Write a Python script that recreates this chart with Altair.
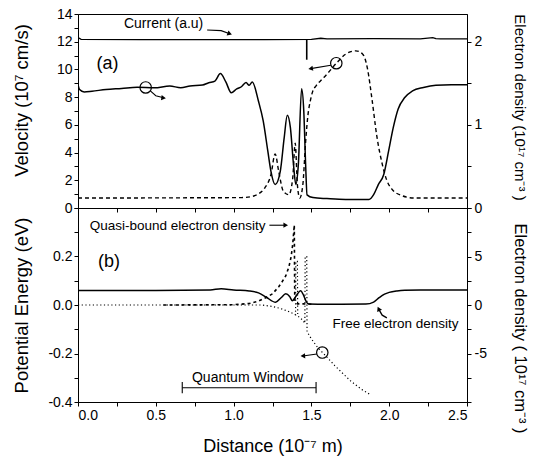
import altair as alt
import pandas as pd

# ---------------- Panel (a) data ----------------
vel_x = [0, 0.01, 0.04, 0.09, 0.18, 0.28, 0.38, 0.49, 0.59, 0.66, 0.72, 0.80, 0.84, 0.88,
         0.915, 0.95, 0.985, 1.02, 1.05, 1.08, 1.10, 1.12, 1.16, 1.19, 1.22, 1.24, 1.267,
         1.30, 1.325, 1.345, 1.365, 1.385, 1.40, 1.416, 1.437, 1.451, 1.463, 1.472, 1.51,
         1.6, 1.72, 1.87, 1.90, 1.93, 1.965, 1.996, 2.026, 2.057, 2.10, 2.15, 2.22, 2.30,
         2.4, 2.5]
vel_v = [8.9, 8.55, 8.38, 8.43, 8.55, 8.63, 8.72, 8.67, 8.8, 8.68, 8.8, 8.87, 9.04, 9.16,
         9.7, 9.1, 8.32, 8.6, 8.75, 9.05, 8.85, 9.1, 7.7, 6.3, 4.1, 2.65, 1.7,
         2.65, 5.06, 6.7, 5.8, 3.13, 1.7, 3.13, 8.6, 7.0, 3.1, 0.95, 0.75,
         0.68, 0.62, 0.62, 0.97, 1.69, 2.42, 4.1, 5.8, 7.13, 7.97, 8.45, 8.7, 8.86,
         8.9, 8.9]

cur_x = [0, 0.02, 0.4, 0.8, 1.2, 1.5, 1.56, 1.6, 1.9, 2.2, 2.28, 2.3, 2.33, 2.5]
cur_v = [12.3, 12.17, 12.15, 12.15, 12.15, 12.17, 12.25, 12.2, 12.22, 12.2, 12.3, 12.22, 12.2, 12.2]
glitch_x = [1.47]
glitch_top = [12.15]
glitch_bot = [10.7]

den_x = [0, 1.05, 1.12, 1.16, 1.20, 1.24, 1.267, 1.29, 1.32, 1.355, 1.38, 1.396, 1.41, 1.425,
         1.445, 1.463, 1.478, 1.492, 1.508, 1.53, 1.57, 1.6, 1.66, 1.72, 1.785, 1.83, 1.86,
         1.89, 1.92, 1.955, 1.985, 2.016, 2.08, 2.16, 2.5]
den_d = [0.12, 0.125, 0.14, 0.17, 0.24, 0.4, 0.65, 0.44, 0.2, 0.16, 0.36, 0.78, 0.28, 0.12,
         0.28, 0.8, 1.12, 1.28, 1.4, 1.47, 1.55, 1.61, 1.74, 1.85, 1.89, 1.85, 1.68,
         1.3, 0.87, 0.53, 0.33, 0.23, 0.15, 0.12, 0.12]

# ---------------- Panel (b) data ----------------
pot_x = [0, 1.18, 1.25, 1.30, 1.35, 1.398, 1.40, 1.41, 1.412, 1.44, 1.458, 1.46, 1.47, 1.472,
         1.50, 1.54, 1.60, 1.65, 1.75, 1.82, 1.88]
pot_e = [0, 0, -0.006, -0.014, -0.026, -0.04, 0.18, 0.18, -0.045, -0.06, -0.075, 0.2, 0.2, -0.11,
         -0.14, -0.175, -0.215, -0.25, -0.312, -0.347, -0.37]

qb_x = [0.55, 1.0, 1.1, 1.16, 1.2, 1.25, 1.29, 1.31, 1.335, 1.355, 1.37, 1.38, 1.39, 1.393,
        1.41, 1.45, 1.5]
qb_d = [0, 0.03, 0.15, 0.4, 0.7, 1.15, 1.88, 2.35, 3.0, 3.9, 5.0, 6.25, 8.25, 0.5,
        0.12, 0.12, 0.08]

free_x = [0, 0.5, 0.85, 0.92, 1.0, 1.1, 1.16, 1.21, 1.27, 1.305, 1.335, 1.36, 1.377, 1.405,
          1.43, 1.45, 1.465, 1.484, 1.6, 1.85, 1.9, 1.935, 1.97, 2.0, 2.05, 2.1, 2.2, 2.5]
free_d = [1.5, 1.5, 1.55, 1.68, 1.55, 1.45, 1.25, 0.8, 0.28, 0.75, 1.15, 0.88, 0.45, 1.0,
          1.48, 1.0, 0.4, 0.1, 0.08, 0.1, 0.3, 0.75, 1.12, 1.3, 1.45, 1.52, 1.55, 1.55]

qw_x = [0.67, 1.53]

xticks = [i * 0.25 for i in range(11)]

FONT = "Liberation Sans"
W, H1, H2 = 389, 194, 194
XDOM = [0, 2.5]
VDOM = [0, 14]
DADOM = [0, 14 / 6]
EDOM = [-0.4, 0.4]
DBDOM = [-10, 10]


def df(x, y):
    return pd.DataFrame({"x": x, "y": y})


def X(axis):
    return alt.X("x:Q", scale=alt.Scale(domain=XDOM, nice=False, zero=False), axis=axis)


def Y(dom, axis=None, field="y:Q"):
    return alt.Y(field, scale=alt.Scale(domain=dom, nice=False, zero=False), axis=axis)


ax_top_x = alt.Axis(values=xticks, labels=False, title=None, tickSize=4, grid=False,
                    domainColor="black", tickColor="black")
ax_bot_x = alt.Axis(values=xticks, title="Distance (10⁻⁷ m)", tickSize=4, grid=False,
                    labelExpr="(round(datum.value*4) % 2 == 0) ? format(datum.value, '.1f') : ''",
                    labelFont=FONT, labelFontSize=14, labelColor="black", labelPadding=2,
                    titleFont=FONT, titleFontSize=18, titleFontWeight="normal", titleColor="black",
                    titleY=44, titleBaseline="middle",
                    domainColor="black", tickColor="black")

ax_vel = alt.Axis(values=list(range(15)), title="Velocity (10⁷ cm/s)", tickSize=4, grid=False,
                  labelExpr="(datum.value % 2 == 0) ? format(datum.value, 'd') : ''",
                  labelFont=FONT, labelFontSize=14, labelColor="black", labelPadding=2,
                  titleFont=FONT, titleFontSize=18.5, titleFontWeight="normal", titleColor="black",
                  titleX=-57, titleY=86, titleBaseline="middle", titleAngle=-90,
                  domainColor="black", tickColor="black")
ax_den_a = alt.Axis(values=[0, 0.5, 1, 1.5, 2], title="Electron density (10¹⁷ cm⁻³ )", orient="right",
                    tickSize=4, grid=False,
                    labelExpr="(datum.value % 1 == 0) ? format(datum.value, 'd') : ''",
                    labelFont=FONT, labelFontSize=14, labelColor="black", labelPadding=3,
                    titleFont=FONT, titleFontSize=15, titleFontWeight="normal", titleColor="black",
                    titleX=52, titleY=93, titleBaseline="middle", titleAngle=90,
                    domainColor="black", tickColor="black")
ax_pot = alt.Axis(values=[round(-0.4 + 0.1 * i, 1) for i in range(9)], title="Potential Energy (eV)",
                  tickSize=4, grid=False,
                  labelExpr="(abs(round(datum.value*10)) % 2 == 0 && datum.value < 0.35) ? replace(format(datum.value, '.1f'), '\u2212', '-') : ''",
                  labelFont=FONT, labelFontSize=14, labelColor="black", labelPadding=2,
                  titleFont=FONT, titleFontSize=18.5, titleFontWeight="normal", titleColor="black",
                  titleX=-57, titleY=97, titleBaseline="middle", titleAngle=-90,
                  domainColor="black", tickColor="black")
ax_den_b = alt.Axis(values=[-10, -7.5, -5, -2.5, 0, 2.5, 5, 7.5, 10], title="Electron density ( 10¹⁷ cm⁻³ )",
                    orient="right", tickSize=4, grid=False,
                    labelExpr="(datum.value % 5 == 0 && abs(datum.value) < 7) ? replace(format(datum.value, 'd'), '\u2212', '-') : ''",
                    labelFont=FONT, labelFontSize=14, labelColor="black", labelPadding=3,
                    titleFont=FONT, titleFontSize=16.5, titleFontWeight="normal", titleColor="black",
                    titleX=52, titleY=120, titleBaseline="middle", titleAngle=90,
                    domainColor="black", tickColor="black")


def line(data, xax, dom, yax=None, dash=None, width=1.4, interp="linear"):
    kw = dict(color="black", strokeWidth=width, clip=True, interpolate=interp)
    if dash is not None:
        kw["strokeDash"] = dash
    return alt.Chart(data).mark_line(**kw).encode(x=X(xax), y=Y(dom, yax), order="i:Q")


def indexed(x, y):
    d = df(x, y)
    d["i"] = range(len(d))
    return d


def text(x, y, s, xax, dom, size=14):
    return alt.Chart(pd.DataFrame({"x": [x], "y": [y], "t": [s]})).mark_text(
        font=FONT, fontSize=size, color="black").encode(x=X(xax), y=Y(dom), text="t:N")


def head(x, y, angle, xax, dom):
    return alt.Chart(df([x], [y])).mark_point(
        shape="triangle-right", filled=True, color="black", size=28, angle=angle, opacity=1
    ).encode(x=X(xax), y=Y(dom))


def circ(x, y, xax, dom):
    return alt.Chart(df([x], [y])).mark_point(
        shape="circle", filled=False, color="black", size=130, strokeWidth=1.2, opacity=1
    ).encode(x=X(xax), y=Y(dom))


# ---------------- Panel (a) ----------------
A = ax_top_x
top_layers = [
    line(indexed(vel_x, vel_v), A, VDOM, ax_vel, width=1.5, interp="monotone"),
    line(indexed(cur_x, cur_v), A, VDOM, width=1.3),
    alt.Chart(pd.DataFrame({"x": glitch_x, "y": glitch_top, "y2": glitch_bot})).mark_rule(
        color="black", strokeWidth=1.6).encode(x=X(A), y=Y(VDOM), y2="y2:Q"),
    line(indexed(den_x, den_d), A, DADOM, ax_den_a, dash=[4, 3], width=1.4, interp="monotone"),
    text(0.55, 13.25, "Current (a.u)", A, VDOM, 14),
    line(indexed([0.83, 0.92, 0.975], [12.85, 12.8, 12.58]), A, VDOM, width=1.1),
    head(0.975, 12.58, 20, A, VDOM),
    text(0.19, 10.4, "(a)", A, VDOM, 18),
    circ(0.435, 8.7, A, VDOM),
    line(indexed([0.465, 0.5, 0.55], [8.45, 8.1, 7.95]), A, VDOM, width=1.1),
    head(0.55, 7.95, 8, A, VDOM),
    circ(1.66, 10.45, A, VDOM),
    line(indexed([1.625, 1.495], [10.3, 10.06]), A, VDOM, width=1.1),
    head(1.495, 10.06, 171, A, VDOM),
]
top = alt.layer(*top_layers).resolve_scale(y="independent").properties(width=W, height=H1)

# ---------------- Panel (b) ----------------
B = ax_bot_x
bot_layers = [
    line(indexed(pot_x, pot_e), B, EDOM, ax_pot, dash=[1.2, 2.5], width=1.2),
    line(indexed(free_x, free_d), B, DBDOM, ax_den_b, width=1.5, interp="monotone"),
    line(indexed(qb_x, qb_d), B, DBDOM, dash=[3, 3], width=1.6),
    text(0.64, 0.325, "Quasi-bound electron density", B, EDOM, 13.5),
    line(indexed([1.23, 1.33], [0.329, 0.329]), B, EDOM, width=1.1),
    head(1.335, 0.329, 0, B, EDOM),
    text(0.2, 0.176, "(b)", B, EDOM, 18),
    text(2.04, -0.078, "Free electron density", B, EDOM, 13.5),
    line(indexed([1.985, 1.955, 1.935], [-0.053, -0.042, -0.02]), B, EDOM, width=1.3),
    head(1.932, -0.016, 245, B, EDOM),
    circ(1.57, -0.196, B, EDOM),
    line(indexed([1.535, 1.445], [-0.202, -0.21]), B, EDOM, width=1.1),
    head(1.445, -0.21, 176, B, EDOM),
    text(1.09, -0.299, "Quantum Window", B, EDOM, 14),
    alt.Chart(pd.DataFrame({"x": [qw_x[0]], "x2": [qw_x[1]], "y": [-0.341]})).mark_rule(
        color="black", strokeWidth=1.1).encode(x=X(B), x2="x2:Q", y=Y(EDOM)),
    alt.Chart(pd.DataFrame({"x": qw_x, "y": [-0.318, -0.318], "y2": [-0.364, -0.364]})).mark_rule(
        color="black", strokeWidth=1.1).encode(x=X(B), y=Y(EDOM), y2="y2:Q"),
]
bot = alt.layer(*bot_layers).resolve_scale(y="independent").properties(width=W, height=H2)

chart = alt.vconcat(top, bot, spacing=0, bounds="flush").properties(
    padding={"left": 11, "top": 6, "right": 5, "bottom": 5},
    background="white",
).configure_view(stroke="black", strokeWidth=1).configure_axis(
    domainWidth=1, tickWidth=1, labelFont=FONT
)

chart.save("out.html", embed_options={"renderer": "svg", "actions": False})
